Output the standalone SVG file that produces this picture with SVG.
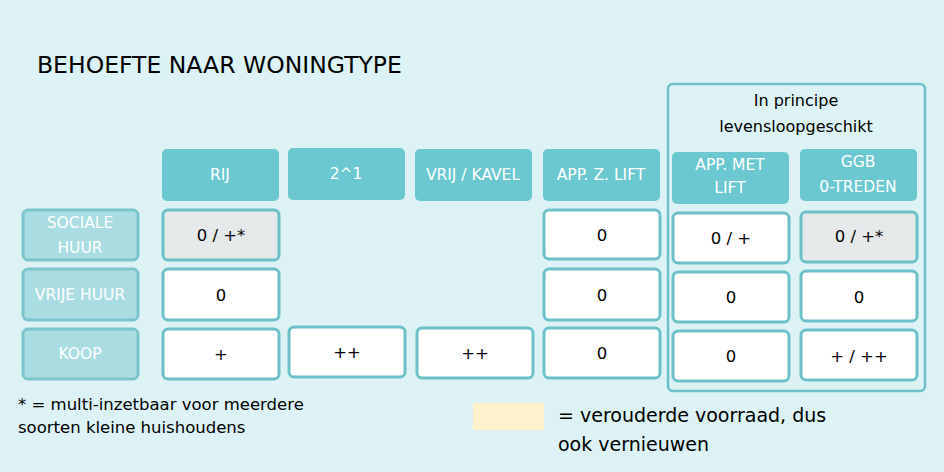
<svg xmlns="http://www.w3.org/2000/svg" width="944" height="472" viewBox="0 0 944 472">
<style>
text{font-family:"DejaVu Sans","Noto Sans",sans-serif;text-anchor:middle}
.h rect{fill:#6cc8d0}
.h text{fill:#fff;font-size:15.5px}
.l rect{fill:#a9dde2;stroke:#7cc5cc;stroke-width:3}
.l text{fill:#fff;font-size:15.5px}
.c rect{fill:#fff;stroke:#6cc1c8;stroke-width:3}
.c text{fill:#000;font-size:16.5px}
.g rect{fill:#e6e9ea}
</style>
<rect width="944" height="472" fill="#dcf2f4"/>
<text x="37" y="73" style="text-anchor:start;font-size:23.5px" fill="#000">BEHOEFTE NAAR WONINGTYPE</text>
<g id="frame"><rect x="668" y="84" width="257" height="307" rx="5" fill="none" stroke="#6cc1c8" stroke-width="2.5"/>
<text x="796" y="106" font-size="16" fill="#000">In principe</text><text x="796" y="132" font-size="16" fill="#000">levensloopgeschikt</text></g>
<g id="h-rij" class="h"><rect x="162" y="149" width="117" height="52" rx="5"/><text x="220" y="180">RIJ</text></g>
<g id="h-21" class="h"><rect x="288" y="148" width="117" height="52" rx="5"/><text x="346" y="179">2^1</text></g>
<g id="h-vrij" class="h"><rect x="415" y="149" width="117" height="52" rx="5"/><text x="473" y="180">VRIJ / KAVEL</text></g>
<g id="h-appz" class="h"><rect x="543" y="149" width="117" height="52" rx="5"/><text x="601" y="180">APP. Z. LIFT</text></g>
<g id="h-appm" class="h"><rect x="672" y="152" width="117" height="52" rx="5"/><text x="730" y="170">APP. MET</text><text x="730" y="193">LIFT</text></g>
<g id="h-ggb" class="h"><rect x="800" y="149" width="117" height="52" rx="5"/><text x="858" y="167">GGB</text><text x="858" y="192">0-TREDEN</text></g>
<g id="l-soc" class="l"><rect x="23" y="210" width="115" height="50" rx="5"/><text x="80" y="228">SOCIALE</text><text x="80" y="253">HUUR</text></g>
<g id="l-vrij" class="l"><rect x="23" y="269" width="115" height="51" rx="5"/><text x="80" y="300">VRIJE HUUR</text></g>
<g id="l-koop" class="l"><rect x="23" y="329" width="115" height="50" rx="5"/><text x="80" y="359">KOOP</text></g>
<g id="c-rij-soc" class="c g"><rect x="163" y="210" width="116" height="50" rx="5"/><text x="221" y="241">0 / +*</text></g>
<g id="c-rij-vrij" class="c"><rect x="163" y="269" width="116" height="51" rx="5"/><text x="221" y="301">0</text></g>
<g id="c-rij-koop" class="c"><rect x="163" y="329" width="116" height="50" rx="5"/><text x="221" y="360">+</text></g>
<g id="c-21-koop" class="c"><rect x="289" y="327" width="116" height="50" rx="5"/><text x="347" y="358">++</text></g>
<g id="c-vrij-koop" class="c"><rect x="417" y="328" width="116" height="50" rx="5"/><text x="475" y="359">++</text></g>
<g id="c-appz-soc" class="c"><rect x="544" y="210" width="116" height="49" rx="5"/><text x="602" y="241">0</text></g>
<g id="c-appz-vrij" class="c"><rect x="544" y="269" width="116" height="51" rx="5"/><text x="602" y="301">0</text></g>
<g id="c-appz-koop" class="c"><rect x="544" y="328" width="116" height="50" rx="5"/><text x="602" y="359">0</text></g>
<g id="c-appm-soc" class="c"><rect x="673" y="213" width="116" height="50" rx="5"/><text x="731" y="244">0 / +</text></g>
<g id="c-appm-vrij" class="c"><rect x="673" y="272" width="116" height="50" rx="5"/><text x="731" y="303">0</text></g>
<g id="c-appm-koop" class="c"><rect x="673" y="331" width="116" height="50" rx="5"/><text x="731" y="362">0</text></g>
<g id="c-ggb-soc" class="c g"><rect x="801" y="212" width="116" height="50" rx="5"/><text x="859" y="242">0 / +*</text></g>
<g id="c-ggb-vrij" class="c"><rect x="801" y="271" width="116" height="50" rx="5"/><text x="859" y="303">0</text></g>
<g id="c-ggb-koop" class="c"><rect x="801" y="330" width="116" height="50" rx="5"/><text x="859" y="362">+ / ++</text></g>
<g id="connectors"/>
<g id="note"><text x="18" y="410" style="text-anchor:start;font-size:16.5px" fill="#000">* = multi-inzetbaar voor meerdere</text><text x="18" y="433" style="text-anchor:start;font-size:16.5px" fill="#000">soorten kleine huishoudens</text></g>
<g id="legend"><rect x="473" y="403" width="71" height="27" fill="#fdf2cc"/>
<text x="558" y="422" style="text-anchor:start;font-size:19px" fill="#000">= verouderde voorraad, dus</text><text x="558" y="451" style="text-anchor:start;font-size:19px" fill="#000">ook vernieuwen</text></g>
</svg>
